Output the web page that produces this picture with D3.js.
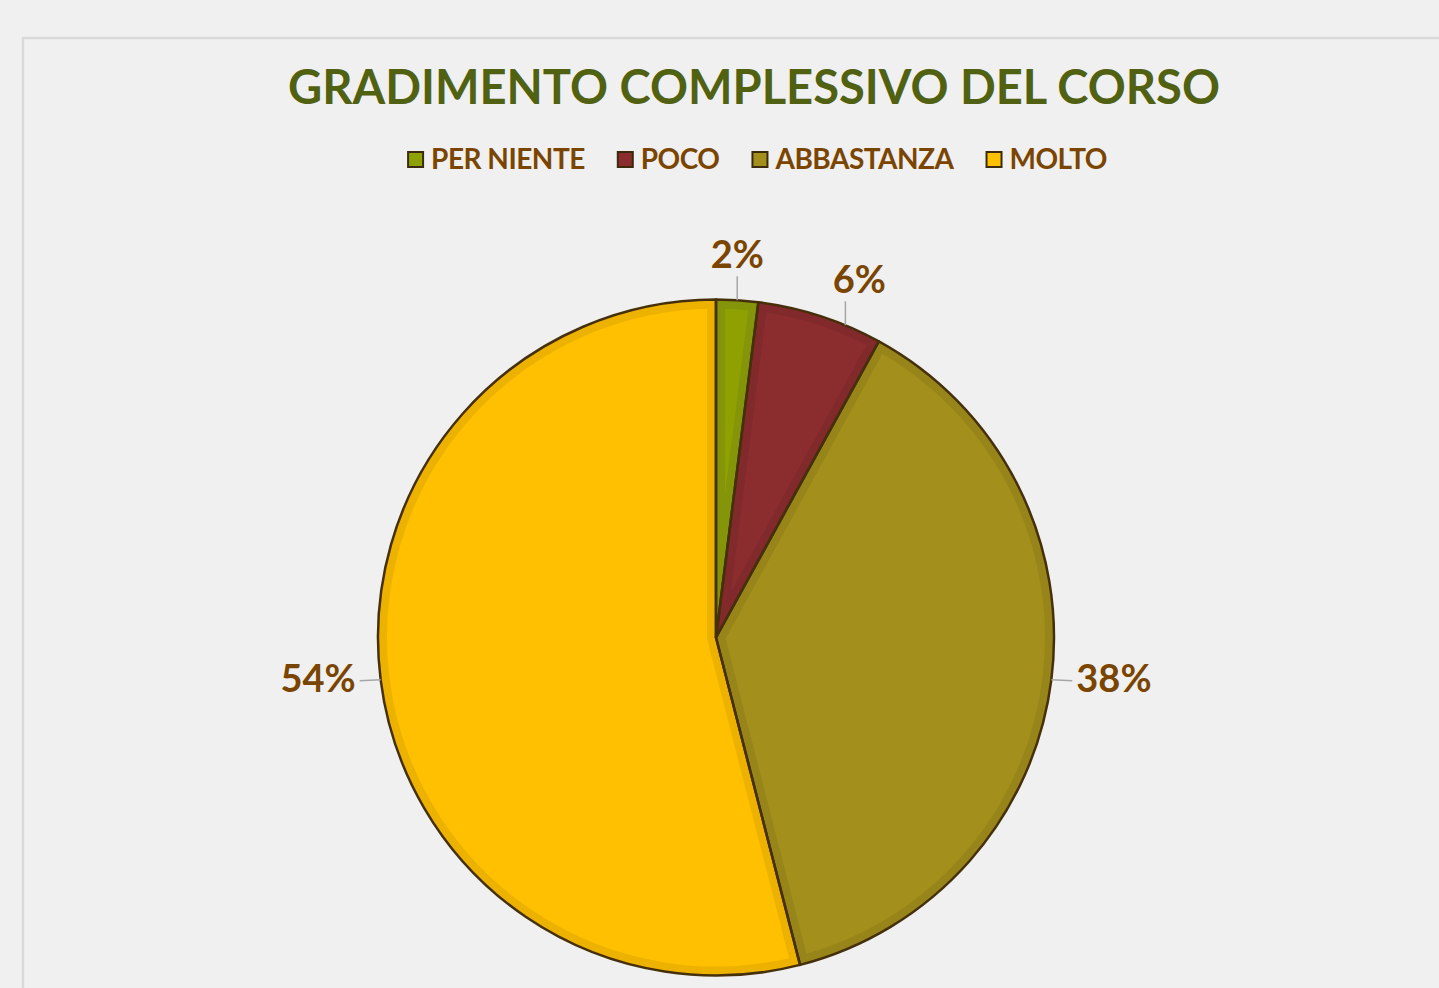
<!DOCTYPE html>
<html>
<head>
<meta charset="utf-8">
<script src="https://cdn.jsdelivr.net/npm/d3@7"></script>
<style>
    body { margin: 0; background: #f0f0f0; }
    svg { display: block; }
</style>
</head>
<body>
<script>
// dati
let categories = ["PER NIENTE", "POCO", "ABBASTANZA", "MOLTO"]
let values = [2, 6, 38, 54]
let fills = ["#8fa100", "#8b2d2f", "#a28f1c", "#fec000"]
let bevels = ["#84950a", "#82292b", "#978519", "#edb200"]
let title = "GRADIMENTO COMPLESSIVO DEL CORSO"

let w = 1439
let h = 988
let font = "Lato, 'DejaVu Sans', sans-serif"
let brown = "#7a4500"

let svg = d3.select("body").append("svg")
    .attr("width", w)
    .attr("height", h)

svg.append("rect")
    .attr("width", w).attr("height", h)
    .attr("fill", "#f0f0f0")

// cornice del grafico
svg.append("path")
    .attr("d", `M23,${h + 5} L23,38 L${w + 5},38`)
    .attr("fill", "none")
    .attr("stroke", "#d9d9d9")
    .attr("stroke-width", 2.5)

svg.append("text")
    .text(title)
    .attr("x", 754)
    .attr("y", 104)
    .attr("text-anchor", "middle")
    .attr("textLength", 932)
    .attr("lengthAdjust", "spacingAndGlyphs")
    .style("font", `bold 48px ${font}`)
    .attr("fill", "#516112")

// legenda
let legend = svg.append("g")
let lx = 0
categories.forEach((c, i) => {
    let g = legend.append("g")
    g.append("rect")
        .attr("x", 1).attr("y", -17)
        .attr("width", 15).attr("height", 15)
        .attr("fill", fills[i])
        .attr("stroke", "#3b2a0c")
        .attr("stroke-width", 2)
    let t = g.append("text")
        .text(c)
        .attr("x", 24)
        .attr("y", 0)
        .style("font", `bold 28px ${font}`)
        .style("letter-spacing", "-0.5px")
        .attr("fill", brown)
    let tw = t.node().getComputedTextLength()
    g.attr("transform", `translate(${lx},0)`)
    lx += 24 + tw + 32
})
lx -= 32
legend.attr("transform", `translate(${757 - lx / 2},169)`)

// torta
let cx = 716, cy = 637.5, r = 338
let pie = d3.pie().sort(null).value(d => d)
let arcs = pie(values)
let arc = d3.arc().innerRadius(0).outerRadius(r)

let pg = svg.append("g").attr("transform", `translate(${cx},${cy})`)

let defs = svg.append("defs")
arcs.forEach((a, i) => {
    defs.append("clipPath").attr("id", "clip" + i)
        .append("path").attr("d", arc(a))
})

pg.selectAll("path.slice")
    .data(arcs)
    .enter()
    .append("path")
        .attr("class", "slice")
        .attr("d", arc)
        .attr("fill", (d, i) => fills[i])
        .attr("stroke", (d, i) => bevels[i])
        .attr("stroke-width", 18)
        .attr("clip-path", (d, i) => `url(#clip${i})`)

pg.selectAll("path.outline")
    .data(arcs)
    .enter()
    .append("path")
        .attr("class", "outline")
        .attr("d", arc)
        .attr("fill", "none")
        .attr("stroke", "#46300c")
        .attr("stroke-width", 2.5)
        .attr("stroke-linejoin", "round")

// etichette: angolo minimo fra etichette vicine
let labelAngles = []
arcs.forEach((a, i) => {
    let m = (a.startAngle + a.endAngle) / 2
    if (i > 0 && m - labelAngles[i - 1] < 0.33) m = labelAngles[i - 1] + 0.33
    labelAngles.push(m)
})

let pt = (ang, rad) => [Math.sin(ang) * rad, -Math.cos(ang) * rad]

arcs.forEach((a, i) => {
    let ang = labelAngles[i]
    let p0 = pt(ang, r)
    let top = Math.abs(Math.cos(ang)) > 0.7
    let p1, tx, ty, anchor
    if (top) {
        p1 = [p0[0], p0[1] - 24]
        tx = p1[0] + (i > 0 ? 14 : 0); ty = p1[1] - 8; anchor = "middle"
    } else {
        let dir = Math.sin(ang) > 0 ? 1 : -1
        p1 = [p0[0] + dir * 21, p0[1] + 1]
        tx = p1[0] + dir * 4; ty = p1[1] + 11; anchor = dir > 0 ? "start" : "end"
    }
    pg.append("line")
        .attr("x1", p0[0]).attr("y1", p0[1])
        .attr("x2", p1[0]).attr("y2", p1[1])
        .attr("stroke", "#a6a6a6")
        .attr("stroke-width", 1.5)
    pg.append("text")
        .text(values[i] + "%")
        .attr("x", tx).attr("y", ty)
        .attr("text-anchor", anchor)
        .style("font", `bold 38px ${font}`)
        .attr("fill", brown)
})
</script>
</body>
</html>
